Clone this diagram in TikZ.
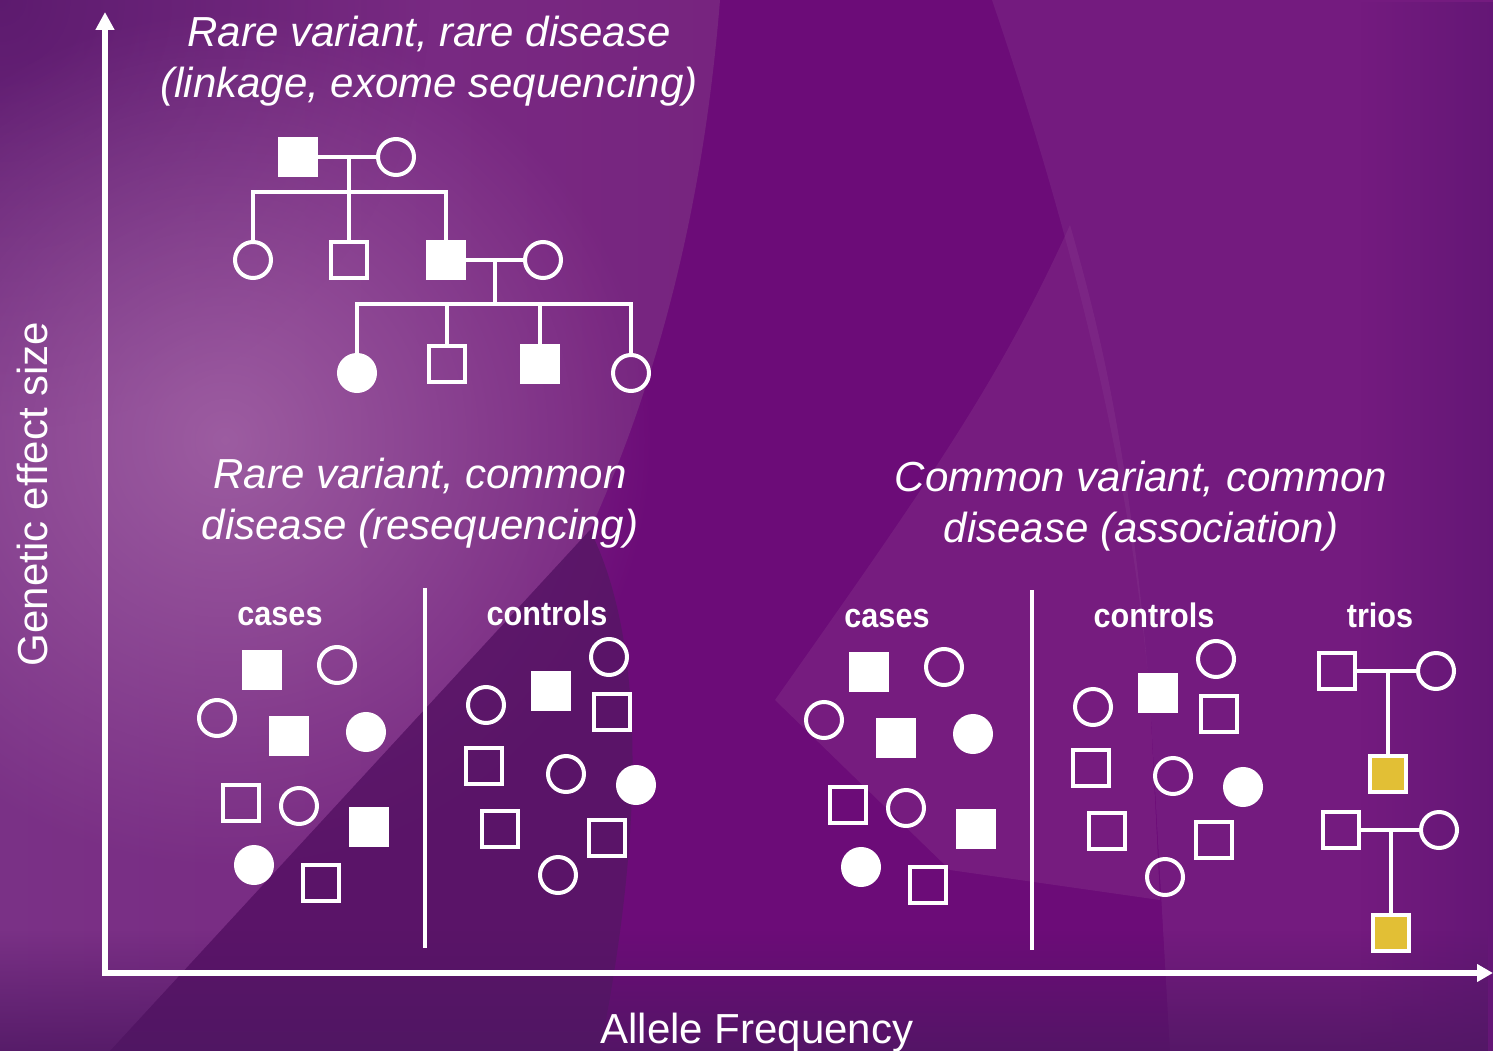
\documentclass[tikz,border=0pt]{standalone}
\usepackage{fontspec}
\setmainfont{Liberation Sans}
\newfontfamily\lblfont[FakeStretch=0.9]{Liberation Sans}
\usetikzlibrary{arrows.meta,fadings,calc}

\definecolor{bgbase}{HTML}{6C0C78}
\definecolor{bgleft}{HTML}{7A3186}
\definecolor{bgleftr}{HTML}{77247F}
\definecolor{bgdark}{HTML}{561569}
\definecolor{bgglow}{HTML}{B47CB4}
\definecolor{bgshadow}{HTML}{561764}
\definecolor{bgright}{HTML}{782283}
\definecolor{bgwedge}{HTML}{8A3A8E}
\definecolor{bgedge}{HTML}{5A1470}
\definecolor{bgbottom}{HTML}{4E1762}
\definecolor{trioyellow}{HTML}{E2BF35}

\tikzfading[name=radfade, inner color=transparent!0, outer color=transparent!100]
\tikzfading[name=fadeup, top color=transparent!100, bottom color=transparent!0]
\tikzfading[name=fadeleft, left color=transparent!100, right color=transparent!0]

\tikzset{
  sym/.style={draw=white, line width=4pt, minimum size=36pt, inner sep=0pt, outer sep=0pt},
  sqo/.style={sym, rectangle},
  sqf/.style={sym, rectangle, fill=white},
  cio/.style={sym, circle},
  cif/.style={sym, circle, fill=white},
  sqy/.style={sym, rectangle, fill=trioyellow},
  ped/.style={draw=white, line width=3.5pt},
  divider/.style={draw=white, line width=4pt},
  axis/.style={draw=white, line width=5.5pt, line join=miter,
    {Triangle[width=18pt,length=18pt]}-{Triangle[width=17pt,length=16pt]}},
  title/.style={text=white, font=\fontsize{42}{51}\selectfont\itshape, align=center, inner sep=0pt},
  grplabel/.style={text=white, font=\lblfont\bfseries\fontsize{34}{40}\selectfont, inner sep=0pt, anchor=base},
  axlabel/.style={text=white, font=\fontsize{42}{50}\selectfont, inner sep=0pt},
}

\newcommand\ccgroup{%
  \node[grplabel] (lc) at (280,625) {cases};
  \node[grplabel] (lk) at (547,625) {controls};
  \coordinate (vt) at (425,588);
  \coordinate (vb) at (425,948);
  \draw[divider] (vt) -- (vb);
  % cases
  \node[sqf] (a1) at (262,670) {};
  \node[cio] (a2) at (337,665) {};
  \node[cio] (a3) at (217,718) {};
  \node[sqf] (a4) at (289,736) {};
  \node[cif] (a5) at (366,732) {};
  \node[sqo] (a6) at (241,803) {};
  \node[cio] (a7) at (299,806) {};
  \node[sqf] (a8) at (369,827) {};
  \node[cif] (a9) at (254,865) {};
  \node[sqo] (a10) at (321,883) {};
  % controls
  \node[cio] (b1) at (609,657) {};
  \node[sqf] (b2) at (551,691) {};
  \node[cio] (b3) at (486,705) {};
  \node[sqo] (b4) at (612,712) {};
  \node[sqo] (b5) at (484,766) {};
  \node[cio] (b6) at (566,774) {};
  \node[cif] (b7) at (636,785) {};
  \node[sqo] (b8) at (500,829) {};
  \node[sqo] (b9) at (607,838) {};
  \node[cio] (b10) at (558,875) {};
}

\begin{document}
\begin{tikzpicture}[x=1pt,y=-1pt]
\useasboundingbox (0,0) rectangle (1493,1051);
% ---------- background ----------
\begin{scope}
\clip (0,0) rectangle (1493,1051);
\fill[bgbase] (0,0) rectangle (1493,1051);
\shade[left color=bgleft, right color=bgleftr] (0,0) -- (720,0) .. controls (700,250) and (640,420) .. (590,530) -- (110,1051) -- (0,1051) -- cycle;
\fill[bgdark, path fading=radfade, opacity=0.8] (0,0) circle (430pt);
\fill[bgglow, path fading=radfade, opacity=0.6] (225,440) circle (430pt);
\fill[bgshadow, opacity=0.8] (110,1051) -- (590,530) .. controls (650,650) and (640,850) .. (600,1051) -- cycle;
\fill[bgright, opacity=0.7] (992,0) .. controls (1060,200) and (1130,450) .. (1150,700) -- (1170,1051) -- (1493,1051) -- (1493,0) -- cycle;
\fill[bgwedge, opacity=0.35] (1070,225) .. controls (1000,380) and (930,480) .. (775,700) -- (950,870) -- (1160,900) -- (1150,700) .. controls (1130,450) and (1100,330) .. (1070,225) -- cycle;
\fill[bgedge, path fading=fadeleft, opacity=0.6] (1360,0) rectangle (1493,1051);
\fill[bgbottom, path fading=fadeup, opacity=0.8] (0,930) rectangle (1493,1051);
\end{scope}

% ---------- axes ----------
\coordinate (O) at (105,973);
\coordinate (Ytip) at (105,12);
\coordinate (Xtip) at (1493,973);
\draw[axis] (Ytip) -- (O) -- (Xtip);
\node[axlabel, rotate=90] (ylab) at (32,494) {Genetic effect size};
\node[axlabel, anchor=base] (xlab) at (757,1043) {Allele Frequency};

% ---------- titles (anchor = baseline of the last line) ----------
\node[title, anchor=base] (t1) at (429,98) {Rare variant, rare disease\\(linkage, exome sequencing)};
\node[title, anchor=base] (t2) at (420,539) {Rare variant, common\\disease (resequencing)};
\node[title, anchor=base] (t3) at (1141,542) {Common variant, common\\disease (association)};

% ---------- pedigree ----------
\node[sqf] (p1) at (298,157) {};
\node[cio] (p2) at (396,157) {};
\node[cio] (c1) at (253,260) {};
\node[sqo] (c2) at (349,260) {};
\node[sqf] (c3) at (446,260) {};
\node[cio] (c4) at (543,260) {};
\node[cif] (d1) at (357,373) {};
\node[sqo] (d2) at (447,364) {};
\node[sqf] (d3) at (540,364) {};
\node[cio] (d4) at (631,373) {};
\coordinate (m1) at (349,157);
\coordinate (s1) at (349,192);
\coordinate (m2) at (495,260);
\coordinate (s2) at (495,304);
\draw[ped] (p1) -- (p2);
\draw[ped] (m1) -- (c2.north);
\draw[ped] (c1.north) |- (s1) -| (c3.north);
\draw[ped] (c3) -- (c4);
\draw[ped] (m2) -- (s2);
\draw[ped] (d1.north) |- (s2) -| (d4.north);
\draw[ped] (d2.north) -- (d2.north |- s2);
\draw[ped] (d3.north) -- (d3.north |- s2);

% ---------- cases / controls groups ----------
\begin{scope}[name prefix=g1-]
  \ccgroup
\end{scope}
\begin{scope}[shift={(607,2)}, name prefix=g2-]
  \ccgroup
\end{scope}

% ---------- trios ----------
\node[grplabel] (lt) at (1380,627) {trios};
\node[sqo] (ta1) at (1337,671) {};
\node[cio] (ta2) at (1436,671) {};
\node[sqy] (ta3) at (1388,774) {};
\coordinate (tam) at (1388,671);
\draw[ped] (ta1) -- (ta2);
\draw[ped] (tam) -- (ta3.north);
\node[sqo] (tb1) at (1341,830) {};
\node[cio] (tb2) at (1439,830) {};
\node[sqy] (tb3) at (1391,933) {};
\coordinate (tbm) at (1391,830);
\draw[ped] (tb1) -- (tb2);
\draw[ped] (tbm) -- (tb3.north);
\end{tikzpicture}
\end{document}
